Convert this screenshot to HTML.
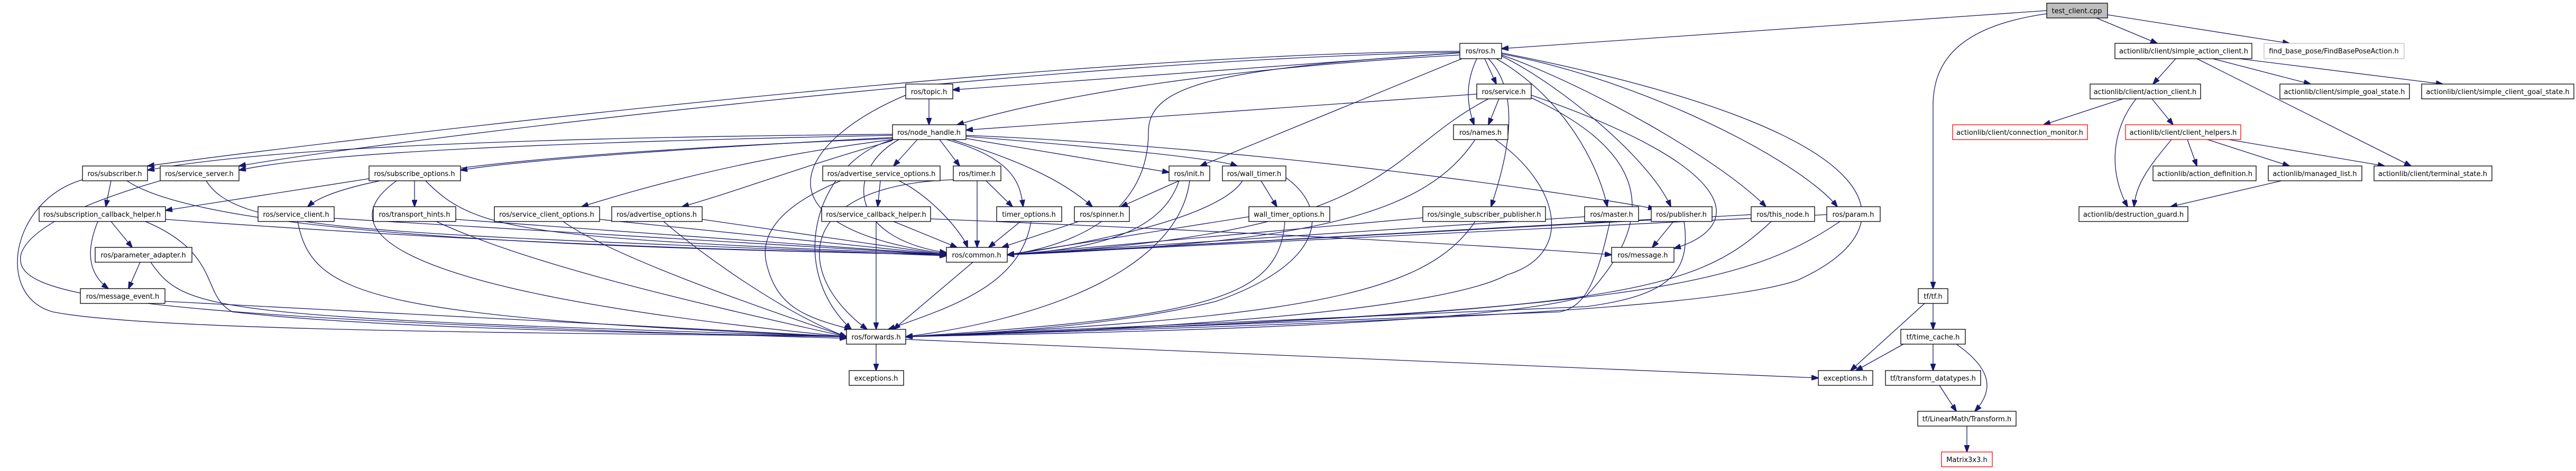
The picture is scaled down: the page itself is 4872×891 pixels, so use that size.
<!DOCTYPE html>
<html><head><meta charset="utf-8"><style>
html,body{margin:0;padding:0;background:#fff;}
svg{display:block;}
text{font-family:"DejaVu Sans","Liberation Sans",sans-serif;font-size:13px;text-anchor:middle;fill:#000;}
.e{fill:none;stroke:#191970;stroke-width:1.3;marker-end:url(#a);}
.n{fill:#fff;stroke:#000;stroke-width:1.3;}
.r{fill:#fff;stroke:#ff0000;stroke-width:1.3;}
.g{fill:#fff;stroke:#bfbfbf;stroke-width:1.3;}
</style></head><body>
<svg width="4872" height="891" viewBox="0 0 4872 891" xmlns="http://www.w3.org/2000/svg">
<defs><marker id="a" markerUnits="userSpaceOnUse" markerWidth="14" markerHeight="10" refX="13" refY="5" orient="auto"><path d="M0,0 L14,5 L0,10 z" fill="#191970" stroke="#191970"/></marker></defs>
<g>
<path class="e" d="M3871,20 L2840,92"/>
<path class="e" d="M3965,34 L4080,82"/>
<path class="e" d="M3986,28 L4330,82"/>
<path class="e" d="M3871,26 C3700,50 3656,120 3656,200 L3656,546"/>
<path class="e" d="M4115,111 L4072,159"/>
<path class="e" d="M4185,111 L4370,159"/>
<path class="e" d="M4235,111 L4620,159"/>
<path class="e" d="M4155,111 L4560,314"/>
<path class="e" d="M4015,187 L3865,236"/>
<path class="e" d="M4070,187 L4110,236"/>
<path class="e" d="M4040,187 C3990,250 3990,330 4024,391"/>
<path class="e" d="M4107,264 C4060,320 4040,350 4036,391"/>
<path class="e" d="M4137,264 L4155,314"/>
<path class="e" d="M4175,264 L4330,314"/>
<path class="e" d="M4215,264 L4510,314"/>
<path class="e" d="M4315,342 L4105,391"/>
<path class="e" d="M3656,574 L3656,623"/>
<path class="e" d="M3640,574 L3500,701"/>
<path class="e" d="M3600,651 L3510,701"/>
<path class="e" d="M3656,651 L3656,701"/>
<path class="e" d="M3700,651 C3770,700 3770,740 3735,778"/>
<path class="e" d="M3668,729 L3700,778"/>
<path class="e" d="M3720,806 L3720,855"/>
<path class="e" d="M1657,651 L1657,701"/>
<path class="e" d="M1713,642 L3439,715"/>
<path class="e" d="M1840,496 L1690,623"/>
<path class="e" d="M2761,100 L1802,170"/>
<path class="e" d="M2808,111 L2830,159"/>
<path class="e" d="M2793,111 C2770,160 2775,200 2788,236"/>
<path class="e" d="M2761,104 C2300,130 2000,180 1810,236"/>
<path class="e" d="M2765,111 L2270,314"/>
<path class="e" d="M2761,100 C2300,130 2172,160 2172,250 C2172,420 2000,470 1905,482"/>
<path class="e" d="M2761,97 C2000,100 600,270 279,314"/>
<path class="e" d="M2761,99 C2000,110 700,270 452,314"/>
<path class="e" d="M2815,111 C2880,180 2850,300 2820,391"/>
<path class="e" d="M2830,111 C2950,180 3020,300 3040,391"/>
<path class="e" d="M2840,106 C2950,160 3120,300 3160,391"/>
<path class="e" d="M2840,104 C3000,160 3250,300 3340,391"/>
<path class="e" d="M2840,102 C3100,150 3400,300 3475,391"/>
<path class="e" d="M2840,100 C3600,250 3620,430 3400,530 C3200,600 2200,620 1713,637"/>
<path class="e" d="M2793,178 L1827,246"/>
<path class="e" d="M2835,187 L2815,236"/>
<path class="e" d="M2815,187 C2600,300 2650,440 1905,482"/>
<path class="e" d="M2896,185 C3100,280 3150,400 3000,560 C2800,620 2000,630 1713,637"/>
<path class="e" d="M2896,180 C3300,320 3300,430 3166,470"/>
<path class="e" d="M2790,264 C2700,400 2500,460 1905,482"/>
<path class="e" d="M2828,264 C2950,350 2980,480 2850,520 C2700,600 2000,630 1713,637"/>
<path class="e" d="M1688,254 C1000,260 500,280 279,322"/>
<path class="e" d="M1688,256 C1000,270 600,290 452,322"/>
<path class="e" d="M1688,260 C1400,275 1000,300 871,322"/>
<path class="e" d="M1688,262 C1000,290 650,330 582,391"/>
<path class="e" d="M1688,264 C1400,300 1200,360 1100,391"/>
<path class="e" d="M1688,266 C1500,320 1400,360 1290,391"/>
<path class="e" d="M1735,264 L1690,314"/>
<path class="e" d="M1777,264 L1815,314"/>
<path class="e" d="M1790,264 C1920,300 1930,350 1935,391"/>
<path class="e" d="M1800,264 C1950,310 2020,350 2066,391"/>
<path class="e" d="M1827,262 L2211,326"/>
<path class="e" d="M1827,258 C2100,280 2300,300 2340,314"/>
<path class="e" d="M1827,256 C2400,280 3000,370 3130,395"/>
<path class="e" d="M1700,264 C1600,320 1600,450 1790,478"/>
<path class="e" d="M1690,264 C1550,300 1480,500 1610,623"/>
<path class="e" d="M1757,187 L1757,236"/>
<path class="e" d="M1713,180 C1500,270 1420,430 1790,480"/>
<path class="e" d="M210,342 L200,391"/>
<path class="e" d="M240,342 C400,450 1200,470 1790,482"/>
<path class="e" d="M156,340 C20,380 -10,560 100,590 C300,630 1200,630 1601,637"/>
<path class="e" d="M390,342 C450,440 700,440 1790,484"/>
<path class="e" d="M303,342 C100,400 50,450 40,480 C20,560 200,600 1601,640"/>
<path class="e" d="M698,338 L313,398"/>
<path class="e" d="M784,342 L784,391"/>
<path class="e" d="M805,342 C900,440 1000,450 1790,482"/>
<path class="e" d="M750,342 C600,450 800,560 1601,637"/>
<path class="e" d="M210,419 L250,468"/>
<path class="e" d="M185,419 C160,480 170,520 205,546"/>
<path class="e" d="M313,415 C800,450 1200,470 1790,482"/>
<path class="e" d="M275,419 C420,480 380,560 440,590 C700,620 1200,630 1601,637"/>
<path class="e" d="M265,496 L243,546"/>
<path class="e" d="M285,496 C350,590 400,600 1601,637"/>
<path class="e" d="M312,570 L1601,637"/>
<path class="e" d="M632,413 L1790,482"/>
<path class="e" d="M563,419 C590,560 700,600 1601,637"/>
<path class="e" d="M862,415 L1790,482"/>
<path class="e" d="M825,419 C1000,500 1300,570 1601,637"/>
<path class="e" d="M1134,415 L1790,482"/>
<path class="e" d="M1065,419 C1150,480 1400,570 1601,637"/>
<path class="e" d="M1328,415 L1790,482"/>
<path class="e" d="M1255,419 C1350,500 1500,600 1601,637"/>
<path class="e" d="M1665,342 L1660,391"/>
<path class="e" d="M1700,342 C1760,370 1820,440 1830,468"/>
<path class="e" d="M1590,342 C1450,400 1440,460 1450,500 C1470,580 1520,600 1610,623"/>
<path class="e" d="M1690,419 L1810,468"/>
<path class="e" d="M1657,419 L1657,623"/>
<path class="e" d="M1760,414 C2400,440 2900,470 3048,482"/>
<path class="e" d="M1865,342 L1915,391"/>
<path class="e" d="M1848,342 L1848,468"/>
<path class="e" d="M1803,340 C1500,350 1500,520 1640,623"/>
<path class="e" d="M1930,419 L1870,468"/>
<path class="e" d="M1950,419 C1930,540 1800,580 1680,623"/>
<path class="e" d="M2040,419 L1895,468"/>
<path class="e" d="M2230,342 L2120,391"/>
<path class="e" d="M2230,342 C2200,430 2100,470 1905,482"/>
<path class="e" d="M2250,342 C2230,500 2000,600 1713,637"/>
<path class="e" d="M2385,342 L2415,391"/>
<path class="e" d="M2350,342 C2300,420 2000,470 1905,482"/>
<path class="e" d="M2432,336 C2520,400 2500,500 2300,570 C2100,620 1800,635 1713,637"/>
<path class="e" d="M2362,410 L1905,482"/>
<path class="e" d="M2430,419 C2420,560 2300,600 1713,637"/>
<path class="e" d="M2691,412 L1905,482"/>
<path class="e" d="M2790,419 C2700,550 2500,600 1713,637"/>
<path class="e" d="M2997,410 L1905,482"/>
<path class="e" d="M3045,419 C3020,530 3000,580 2950,590 L1713,637"/>
<path class="e" d="M3165,419 L3125,468"/>
<path class="e" d="M3123,415 L1905,482"/>
<path class="e" d="M3185,419 C3200,520 3150,560 3000,580 L1713,637"/>
<path class="e" d="M3312,406 L1905,482"/>
<path class="e" d="M3350,419 C3200,560 3050,590 1713,637"/>
<path class="e" d="M3455,406 L1905,482"/>
<path class="e" d="M3480,419 C3300,540 3100,590 1713,637"/>
</g>
<g>
<rect x="3871" y="6" width="115" height="28" fill="#bfbfbf" stroke="#000" stroke-width="1.3"/><text x="3928" y="25">test_client.cpp</text>
<rect class="n" x="2761" y="82" width="79" height="29"/><text x="2800" y="101">ros/ros.h</text>
<rect class="n" x="4000" y="82" width="259" height="29"/><text x="4130" y="101">actionlib/client/simple_action_client.h</text>
<rect class="g" x="4282" y="82" width="265" height="29"/><text x="4414" y="101">find_base_pose/FindBasePoseAction.h</text>
<rect class="n" x="1713" y="159" width="89" height="28"/><text x="1757" y="178">ros/topic.h</text>
<rect class="n" x="2793" y="159" width="103" height="28"/><text x="2844" y="178">ros/service.h</text>
<rect class="n" x="3953" y="159" width="209" height="28"/><text x="4057" y="178">actionlib/client/action_client.h</text>
<rect class="n" x="4312" y="159" width="245" height="28"/><text x="4434" y="178">actionlib/client/simple_goal_state.h</text>
<rect class="n" x="4580" y="159" width="288" height="28"/><text x="4724" y="178">actionlib/client/simple_client_goal_state.h</text>
<rect class="n" x="1688" y="236" width="139" height="28"/><text x="1757" y="255">ros/node_handle.h</text>
<rect class="n" x="2749" y="236" width="103" height="28"/><text x="2800" y="255">ros/names.h</text>
<rect class="r" x="3693" y="236" width="255" height="28"/><text x="3820" y="255">actionlib/client/connection_monitor.h</text>
<rect class="r" x="4020" y="236" width="218" height="28"/><text x="4129" y="255">actionlib/client/client_helpers.h</text>
<rect class="n" x="156" y="314" width="123" height="28"/><text x="217" y="333">ros/subscriber.h</text>
<rect class="n" x="303" y="314" width="149" height="28"/><text x="377" y="333">ros/service_server.h</text>
<rect class="n" x="698" y="314" width="173" height="28"/><text x="784" y="333">ros/subscribe_options.h</text>
<rect class="n" x="1556" y="314" width="222" height="28"/><text x="1667" y="333">ros/advertise_service_options.h</text>
<rect class="n" x="1803" y="314" width="90" height="28"/><text x="1848" y="333">ros/timer.h</text>
<rect class="n" x="2211" y="314" width="77" height="28"/><text x="2249" y="333">ros/init.h</text>
<rect class="n" x="2312" y="314" width="120" height="28"/><text x="2372" y="333">ros/wall_timer.h</text>
<rect class="n" x="4072" y="314" width="195" height="28"/><text x="4170" y="333">actionlib/action_definition.h</text>
<rect class="n" x="4290" y="314" width="177" height="28"/><text x="4378" y="333">actionlib/managed_list.h</text>
<rect class="n" x="4490" y="314" width="223" height="28"/><text x="4601" y="333">actionlib/client/terminal_state.h</text>
<rect class="n" x="74" y="391" width="239" height="28"/><text x="193" y="410">ros/subscription_callback_helper.h</text>
<rect class="n" x="488" y="391" width="144" height="28"/><text x="560" y="410">ros/service_client.h</text>
<rect class="n" x="706" y="391" width="156" height="28"/><text x="784" y="410">ros/transport_hints.h</text>
<rect class="n" x="935" y="391" width="199" height="28"/><text x="1034" y="410">ros/service_client_options.h</text>
<rect class="n" x="1157" y="391" width="171" height="28"/><text x="1242" y="410">ros/advertise_options.h</text>
<rect class="n" x="1554" y="391" width="206" height="28"/><text x="1657" y="410">ros/service_callback_helper.h</text>
<rect class="n" x="1885" y="391" width="123" height="28"/><text x="1946" y="410">timer_options.h</text>
<rect class="n" x="2032" y="391" width="104" height="28"/><text x="2084" y="410">ros/spinner.h</text>
<rect class="n" x="2362" y="391" width="153" height="28"/><text x="2438" y="410">wall_timer_options.h</text>
<rect class="n" x="2691" y="391" width="232" height="28"/><text x="2807" y="410">ros/single_subscriber_publisher.h</text>
<rect class="n" x="2997" y="391" width="102" height="28"/><text x="3048" y="410">ros/master.h</text>
<rect class="n" x="3123" y="391" width="115" height="28"/><text x="3180" y="410">ros/publisher.h</text>
<rect class="n" x="3312" y="391" width="120" height="28"/><text x="3372" y="410">ros/this_node.h</text>
<rect class="n" x="3455" y="391" width="101" height="28"/><text x="3505" y="410">ros/param.h</text>
<rect class="n" x="3932" y="391" width="206" height="28"/><text x="4035" y="410">actionlib/destruction_guard.h</text>
<rect class="n" x="180" y="468" width="183" height="28"/><text x="271" y="487">ros/parameter_adapter.h</text>
<rect class="n" x="1790" y="468" width="115" height="28"/><text x="1847" y="487">ros/common.h</text>
<rect class="n" x="3048" y="468" width="118" height="28"/><text x="3107" y="487">ros/message.h</text>
<rect class="n" x="152" y="546" width="160" height="28"/><text x="232" y="565">ros/message_event.h</text>
<rect class="n" x="3628" y="546" width="56" height="28"/><text x="3656" y="565">tf/tf.h</text>
<rect class="n" x="1601" y="623" width="112" height="28"/><text x="1657" y="642">ros/forwards.h</text>
<rect class="n" x="3595" y="623" width="122" height="28"/><text x="3656" y="642">tf/time_cache.h</text>
<rect class="n" x="1606" y="701" width="103" height="28"/><text x="1657" y="720">exceptions.h</text>
<rect class="n" x="3439" y="701" width="103" height="28"/><text x="3490" y="720">exceptions.h</text>
<rect class="n" x="3566" y="701" width="180" height="28"/><text x="3656" y="720">tf/transform_datatypes.h</text>
<rect class="n" x="3627" y="778" width="186" height="28"/><text x="3720" y="797">tf/LinearMath/Transform.h</text>
<rect class="r" x="3672" y="855" width="96" height="28"/><text x="3720" y="874">Matrix3x3.h</text>
</g>
</svg>
</body></html>
